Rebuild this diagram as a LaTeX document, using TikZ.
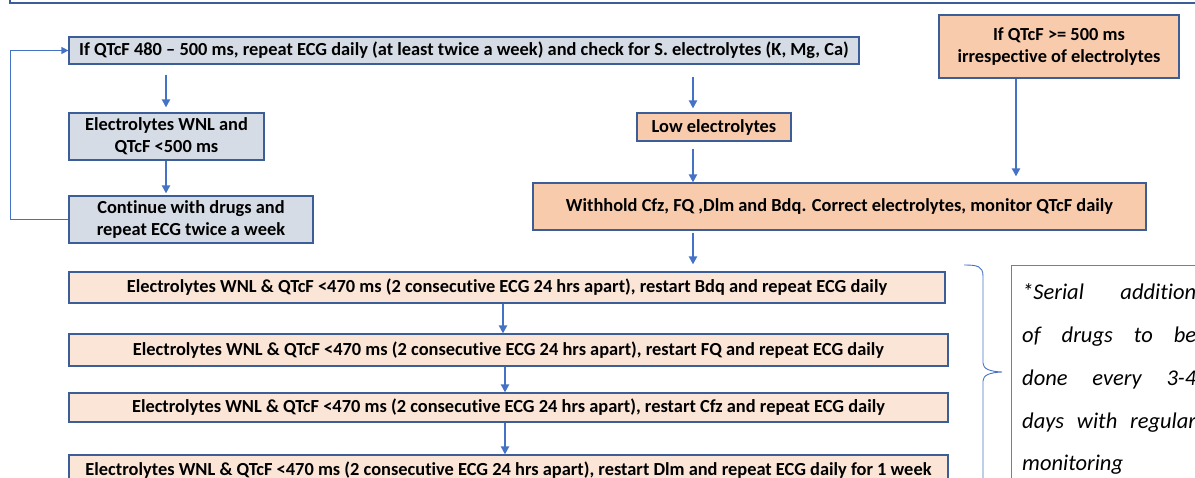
\documentclass[tikz,border=0pt]{standalone}
\usepackage{fontspec}
\setmainfont[Ligatures=NoCommon]{Carlito}
\usetikzlibrary{arrows.meta}

\definecolor{greyblue}{HTML}{D6DCE5}
\definecolor{edgeblue}{HTML}{3B5E98}
\definecolor{peach}{HTML}{F8CBAD}
\definecolor{lightpeach}{HTML}{FBE5D6}
\definecolor{arrowblue}{HTML}{4472C4}
\definecolor{noteblue}{HTML}{4F87C9}

\tikzset{
  box/.style={draw=edgeblue, line width=1.2pt, inner sep=0pt, align=center,
    font=\fontsize{18.4}{22}\selectfont\bfseries},
  greybox/.style={box, fill=greyblue},
  peachbox/.style={box, fill=peach},
  stepbox/.style={box, fill=lightpeach},
  flow/.style={draw=arrowblue, line width=2.2pt, -{Triangle[length=8pt,width=8pt]}},
  loopline/.style={draw=arrowblue, line width=1.2pt, -{Triangle[length=7pt,width=7pt]}},
  notetext/.style={inner sep=0pt, anchor=base west,
    font=\fontsize{22.5}{27}\selectfont\itshape},
}

\begin{document}
\begin{tikzpicture}[x=1pt,y=-1pt]
\useasboundingbox (0,0) rectangle (1195,477);
\clip (0,0) rectangle (1195,477);
\fill[white] (0,0) rectangle (1195,477);

% frame of the panel above
\draw[edgeblue, line width=1.2pt] (10,-20) rectangle (1230,3);

% left branch
\node[greybox, minimum width=790pt, minimum height=27pt] (b1) at (464,50.5)
  {If QTcF 480 – 500 ms, repeat ECG daily (at least twice a week) and check for S. electrolytes (K, Mg, Ca)};
\node[greybox, minimum width=195pt, minimum height=47pt] (b2) at (166.5,136.5)
  {Electrolytes WNL and\\QTcF <500 ms};
\node[greybox, minimum width=244pt, minimum height=47pt] (b3) at (191,219.5)
  {Continue with drugs and\\repeat ECG twice a week};

% right branch
\node[peachbox, minimum width=154pt, minimum height=28pt] (low) at (714,127)
  {Low electrolytes};
\node[peachbox, minimum width=240pt, minimum height=63pt] (high) at (1059,46.5)
  {If QTcF >= 500 ms\\irrespective of electrolytes};
\node[peachbox, minimum width=613pt, minimum height=47pt] (hold) at (839.5,206.5)
  {Withhold Cfz, FQ ,Dlm and Bdq. Correct electrolytes, monitor QTcF daily};

% serial restart steps
\node[stepbox, minimum width=876pt, minimum height=31pt] (r1) at (507,287.5)
  {Electrolytes WNL \& QTcF <470 ms (2 consecutive ECG 24 hrs apart), restart Bdq and repeat ECG daily};
\node[stepbox, minimum width=879pt, minimum height=32pt] (r2) at (508.5,350)
  {Electrolytes WNL \& QTcF <470 ms (2 consecutive ECG 24 hrs apart), restart FQ and repeat ECG daily};
\node[stepbox, minimum width=879pt, minimum height=29pt] (r3) at (508.5,407.5)
  {Electrolytes WNL \& QTcF <470 ms (2 consecutive ECG 24 hrs apart), restart Cfz and repeat ECG daily};
\node[stepbox, minimum width=879pt, minimum height=31pt] (r4) at (508.5,470.5)
  {Electrolytes WNL \& QTcF <470 ms (2 consecutive ECG 24 hrs apart), restart Dlm and repeat ECG daily for 1 week};

% connectors
\draw[flow, shorten <=10pt, shorten >=5pt] (166,0 |- b1.south) -- (166,0 |- b2.north);
\draw[flow, shorten >=2pt] (166,0 |- b2.south) -- (166,0 |- b3.north);
\draw[loopline] (b3.west) -- (10.7,0 |- b3.west) -- (10.7,0 |- b1.west) -- (b1.west);
\draw[flow, shorten <=12pt, shorten >=4pt] (693,0 |- b1.south) -- (693,0 |- low.north);
\draw[flow, shorten <=7pt] (693,0 |- low.south) -- (693,0 |- hold.north);
\draw[flow, shorten >=6pt] (1016,0 |- high.south) -- (1016,0 |- hold.north);
\draw[flow, shorten <=2pt, shorten >=7pt] (693,0 |- hold.south) -- (693,0 |- r1.north);
\draw[flow] (503,0 |- r1.south) -- (503,0 |- r2.north);
\draw[flow] (505,0 |- r2.south) -- (505,0 |- r3.north);
\draw[flow] (505,0 |- r3.south) -- (505,0 |- r4.north);

% brace grouping the restart steps
\draw[arrowblue, line width=0.9pt]
  (964,265) .. controls (977,265) and (983,266) .. (983,276)
  -- (983,363) .. controls (983,369) and (990,371.5) .. (1002,372)
  .. controls (990,372.5) and (983,375) .. (983,381)
  -- (983,490);

% note on serial addition
\node[draw=noteblue, line width=1pt, inner sep=0pt, minimum width=230pt,
      minimum height=250pt, anchor=north west] (note) at (1011,265) {};
\node[notetext] (n1) at (1022,299) {\makebox[174pt][s]{*Serial addition}};
\node[notetext] (n2) at (1022,342) {\makebox[174pt][s]{of drugs to be}};
\node[notetext] (n3) at (1022,385) {\makebox[174pt][s]{done every 3-4}};
\node[notetext] (n4) at (1022,428) {\makebox[174pt][s]{days with regular}};
\node[notetext] (n5) at (1022,470) {monitoring};
\end{tikzpicture}
\end{document}
